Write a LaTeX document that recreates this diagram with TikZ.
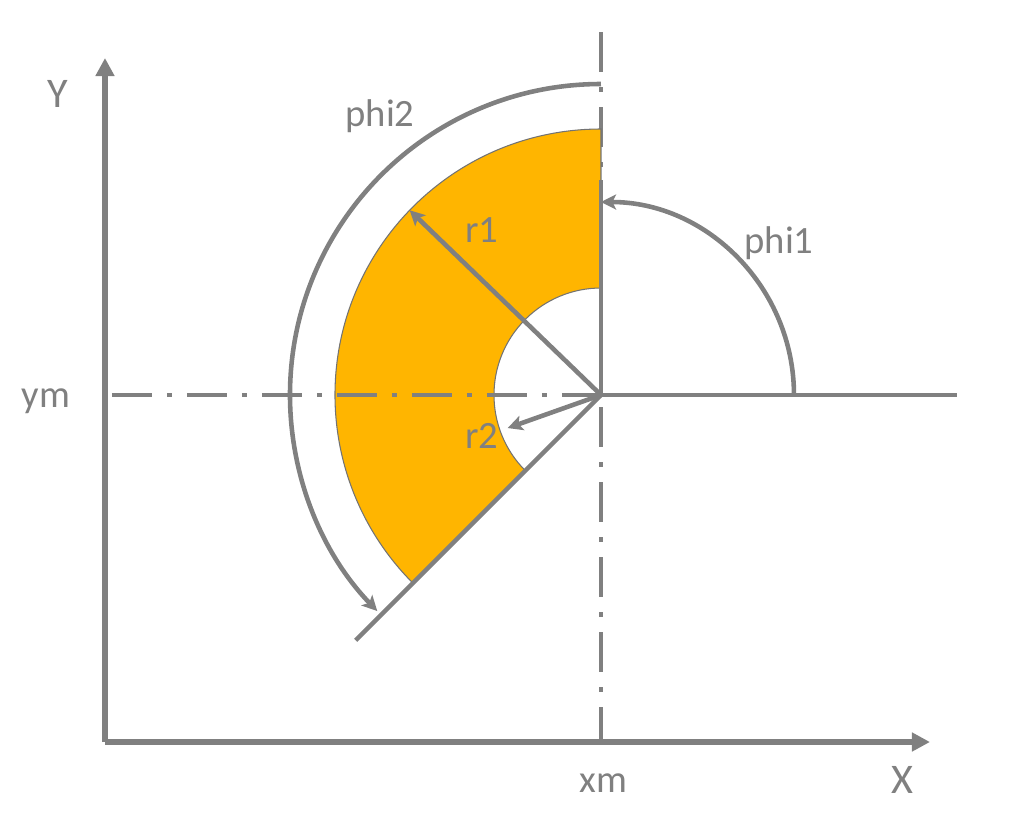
\documentclass[tikz,border=0pt]{standalone}
\usepackage{fontspec}
\setmainfont{Carlito}
\usetikzlibrary{arrows.meta}
\definecolor{linegray}{HTML}{808080}
\definecolor{sectorfill}{HTML}{FFB500}
\tikzstyle{axis} = [line width=1.7pt, draw=linegray, -{Triangle[length=1.8mm, width=1.8mm]}]
\tikzstyle{centerline} = [line width=1.3pt, draw=linegray, dash pattern=on 4mm off 1.5mm on 0.5mm off 1.5mm]
\tikzstyle{edge} = [line width=1.3pt, draw=linegray]
\tikzstyle{arrow} = [line width=1.3pt, draw=linegray, -{Stealth[length=1.5mm, width=1.5mm, inset=0.35mm]}]
\tikzstyle{sector} = [fill=sectorfill, draw=black!55, line width=0.3pt]
\tikzstyle{annot} = [text=linegray, anchor=base, inner sep=0pt, font=\fontsize{11}{13}\selectfont]
\tikzstyle{axisname} = [annot, font=\fontsize{12}{14}\selectfont]

\begin{document}
\begin{tikzpicture}
	\useasboundingbox (-6.01,-4.38) rectangle (4.11,3.95);
	\coordinate (M) at (0,0);
	\coordinate (O) at (-4.96,-3.47);
	\coordinate (Xend) at (3.29,-3.47);
	\coordinate (Yend) at (-4.96,3.37);
	
	% vertical centre line, under the sector
	\draw [centerline] (0,3.63) -- (0,-3.47);
	
	% ring sector between r2 and r1
	\draw [sector] (90:2.66) arc (90:225:2.66) -- (225:1.07) arc (225:90:1.07) -- cycle;
	
	\draw [centerline] (-4.89,0) -- (M);
	\draw [edge] (M) -- (3.56,0);
	\draw [edge] (M) -- (0,2.15);
	\draw [edge] (M) -- (225:3.47);
	
	\draw [arrow] (M) -- (136:2.66);
	\draw [arrow] (M) -- (199.5:0.99);
	\draw [arrow] (1.93,0) arc (0:90:1.93);
	\draw [arrow] (90:3.11) arc (90:224:3.11);
	
	% axes
	\draw [axis] (O) -- (Yend);
	\draw [axis] (O) -- (Xend);
	
	\node (Ylab) [axisname] at (-5.435,2.88) {Y};
	\node (Xlab) [axisname] at (3.01,-3.98) {X};
	\node (ym) [annot] at (-5.55,-0.12) {ym};
	\node (xm) [annot] at (0.025,-3.97) {xm};
	\node (phi2) [annot] at (-2.21,2.69) {phi2};
	\node (phi1) [annot] at (1.78,1.42) {phi1};
	\node (r1) [annot] at (-1.19,1.53) {r1};
	\node (r2) [annot] at (-1.19,-0.53) {r2};
\end{tikzpicture}
\end{document}
